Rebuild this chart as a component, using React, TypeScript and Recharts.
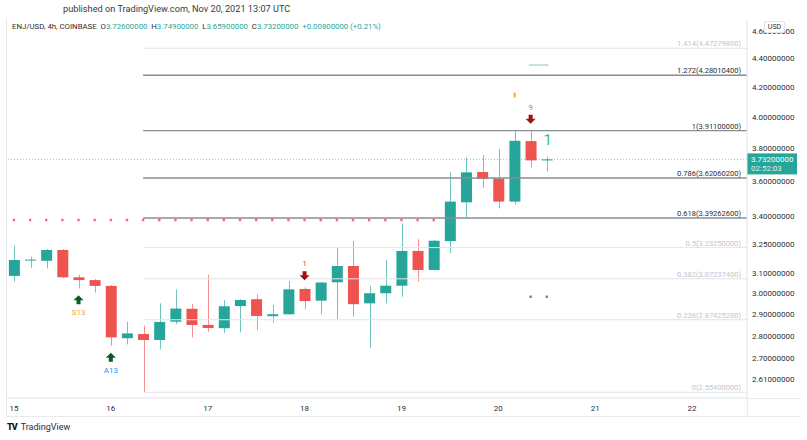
import React from "react";
import { Bar, ComposedChart, ReferenceLine, Scatter, XAxis, YAxis } from "recharts";

// ENJ/USD 4h candles, Nov 15 00:00 .. Nov 20 12:00 (index = candle number)
const opens = [
  3.087, 3.165, 3.164, 3.22, 3.08, 3.066, 3.037, 2.789, 2.808, 2.781, 2.865, 2.926,
  2.85, 2.835, 2.939, 2.972, 2.891, 2.9, 3.022, 2.965, 3.055, 3.137, 2.952, 3.001,
  3.038, 3.215, 3.117, 3.267, 3.48, 3.656, 3.617, 3.484, 3.845, 3.726,
];
const highs = [
  3.243, 3.185, 3.225, 3.225, 3.092, 3.071, 3.042, 2.865, 2.847, 2.952, 3.02, 2.949,
  3.092, 2.968, 2.973, 2.996, 2.944, 3.061, 3.03, 3.056, 3.234, 3.269, 3.037, 3.168,
  3.363, 3.277, 3.273, 3.654, 3.745, 3.759, 3.796, 3.911, 3.911, 3.749,
];
const lows = [
  3.058, 3.128, 3.125, 3.077, 3.025, 3.004, 2.755, 2.761, 2.554, 2.739, 2.854, 2.793,
  2.819, 2.814, 2.816, 2.827, 2.86, 2.898, 2.924, 2.9, 2.876, 2.889, 2.746, 2.952,
  2.984, 3.058, 3.115, 3.203, 3.396, 3.561, 3.446, 3.469, 3.684, 3.659,
];
const closes = [
  3.168, 3.17, 3.22, 3.08, 3.066, 3.037, 2.793, 2.811, 2.781, 2.864, 2.927, 2.85,
  2.836, 2.938, 2.968, 2.892, 2.9, 3.02, 2.963, 3.054, 3.137, 2.948, 3.001, 3.038,
  3.215, 3.117, 3.269, 3.484, 3.654, 3.615, 3.484, 3.847, 3.726, 3.732,
];

const dayTicks = [0, 6, 12, 18, 24, 30, 36, 42];
const dayLabels = ["15", "16", "17", "18", "19", "20", "21", "22"];
const priceTicks = [2.61, 2.7, 2.8, 2.9, 3.0, 3.1, 3.25, 3.4, 3.6, 3.8, 4.0, 4.2, 4.4, 4.6];

// fib retracement drawn from candle 8
const fibStart = 8;
const fibRatios = ["1.414", "1.272", "1", "0.786", "0.618", "0.5", "0.382", "0.236", "0"];
const fibPrices = [4.472798, 4.280104, 3.911, 3.620602, 3.392626, 3.2325, 3.072374, 2.874252, 2.554];
const fibStrong = [false, true, true, true, true, false, false, false, false];

// TD sequential levels / markers
const redDotIdx = [0, 1, 2, 3, 4, 5, 6, 7, 8, 9, 10, 11, 12, 13, 14, 15, 16, 17, 18, 19, 20, 21, 22, 23, 24, 25, 26];
const redDotLevel = 3.381;
const greenDotIdx = [32, 33];
const greenDotLevel = 2.984;
const greenLevel = 4.352;
const belowMarks = [
  { i: 4, text: "S13", color: "#f5a33a" },
  { i: 6, text: "A13", color: "#2196f3" },
];
const aboveMarks = [
  { i: 18, text: "1", color: "#e53935" },
  { i: 32, text: "9", color: "#4caf50" },
];
const lastPrice = 3.732;

const UP = "#26a69a";
const DOWN = "#ef5350";
const FONT = "Roboto, sans-serif";

const candles = opens.map((o, i) => ({ i, open: o, high: highs[i], low: lows[i], close: closes[i] }));
const redDots = redDotIdx.map((i) => ({ i, y: redDotLevel }));
const greenDots = greenDotIdx.map((i) => ({ i, y: greenDotLevel }));
const below = belowMarks.map((m) => ({ ...m, y: lows[m.i] }));
const above = aboveMarks.map((m) => ({ ...m, y: highs[m.i] }));
const bigOne = [{ i: 33, y: highs[33] }];
const orangeTick = [{ i: 31, y: highs[31] }];

function Candle(props: any) {
  const { x, y, width, height, payload } = props;
  if (x == null || !payload) return null;
  const top = Math.min(y, y + height);
  const bot = Math.max(y, y + height);
  const lh = Math.log(payload.high);
  const ll = Math.log(payload.low);
  const px = (p: number) => top + ((bot - top) * (lh - Math.log(p))) / (lh - ll);
  const up = payload.close >= payload.open;
  const color = up ? UP : DOWN;
  const oy = px(payload.open);
  const cy = px(payload.close);
  const cx = Math.round(x + width / 2) + 0.5;
  return (
    <g>
      <line x1={cx} x2={cx} y1={top} y2={bot} stroke={color} strokeOpacity={0.65} />
      <rect x={x} y={Math.min(oy, cy)} width={width} height={Math.max(1, Math.abs(oy - cy))} fill={color} />
    </g>
  );
}

function Dot(color: string) {
  return (p: any) => <rect x={p.cx - 1.2} y={p.cy - 1.2} width={2.4} height={2.4} fill={color} />;
}

function BelowMark(p: any) {
  const { cx, cy, payload } = p;
  const ay = cy + 7;
  return (
    <g>
      <path
        d={`M${cx} ${ay} L${cx + 5} ${ay + 5} L${cx + 2} ${ay + 5} L${cx + 2} ${ay + 9} L${cx - 2} ${ay + 9} L${cx - 2} ${ay + 5} L${cx - 5} ${ay + 5} Z`}
        fill="#0d5a22"
      />
      <text x={cx} y={cy + 27} textAnchor="middle" fontSize={8} fontFamily={FONT} fill={payload.color}>
        {payload.text}
      </text>
    </g>
  );
}

function AboveMark(p: any) {
  const { cx, cy, payload } = p;
  const ay = cy - 7;
  return (
    <g>
      <path
        d={`M${cx} ${ay} L${cx + 5} ${ay - 5} L${cx + 2} ${ay - 5} L${cx + 2} ${ay - 9} L${cx - 2} ${ay - 9} L${cx - 2} ${ay - 5} L${cx - 5} ${ay - 5} Z`}
        fill="#a30f0f"
      />
      <text x={cx} y={cy - 21} textAnchor="middle" fontSize={7.5} fontFamily={FONT} fill={payload.color}>
        {payload.text}
      </text>
    </g>
  );
}

function BigOne(p: any) {
  return (
    <text x={p.cx + 1} y={p.cy - 12} textAnchor="middle" fontSize={15} fontFamily={FONT} fill="#3fbf6a">
      1
    </text>
  );
}

function OrangeTick(p: any) {
  return <rect x={p.cx - 0.8} y={p.cy - 38} width={2} height={5} fill="#ffa726" />;
}

function fibLabel(text: string, strong: boolean) {
  return (props: any) => {
    const vb = props.viewBox;
    if (!vb) return null;
    return (
      <text
        x={vb.x + vb.width - 6}
        y={vb.y - 2}
        textAnchor="end"
        fontSize={7.5}
        fontFamily={FONT}
        fill={strong ? "#2a2e39" : "#c3c5cb"}
      >
        {text}
      </text>
    );
  };
}

function PriceTag(props: any) {
  const vb = props.viewBox;
  if (!vb) return null;
  const x = vb.x + vb.width;
  const y = vb.y;
  return (
    <g>
      <rect x={x} y={y - 6} width={50} height={21} fill={UP} />
      <text x={x + 4} y={y + 3} fontSize={8} fontFamily={FONT} fill="#fff">
        3.73200000
      </text>
      <text x={x + 4} y={y + 12} fontSize={8} fontFamily={FONT} fill="#d8f1ee">
        02:52:03
      </text>
    </g>
  );
}

const tealTxt = { color: "#26a69a" };

export default function App() {
  return (
    <div style={{ position: "absolute", left: 0, top: 0, width: 807, height: 440, background: "#fff", fontFamily: FONT, overflow: "hidden" }}>
      <div style={{ position: "absolute", left: 63, top: 3, fontSize: 9.2, color: "#3a3a3a", whiteSpace: "nowrap" }}>
        published on TradingView.com, Nov 20, 2021 13:07 UTC
      </div>
      <div style={{ position: "absolute", left: 12, top: 22, fontSize: 7.8, color: "#2a2e39", whiteSpace: "nowrap", zIndex: 2 }}>
        ENJ/USD, 4h, COINBASE&nbsp;&nbsp;O<span style={tealTxt}>3.72600000</span>&nbsp;&nbsp;H
        <span style={tealTxt}>3.74900000</span>&nbsp;&nbsp;L<span style={tealTxt}>3.65900000</span>&nbsp;&nbsp;C
        <span style={tealTxt}>3.73200000</span>&nbsp;&nbsp;<span style={tealTxt}>+0.00800000 (+0.21%)</span>
      </div>

      <div style={{ position: "absolute", left: 0, top: 0 }}>
        <ComposedChart width={807} height={440} data={candles} margin={{ top: 20, right: 0, left: 7, bottom: 24 }}>
          <XAxis
            dataKey="i"
            type="number"
            domain={[-0.43, 45.4]}
            allowDataOverflow
            ticks={dayTicks}
            tickFormatter={(v: number) => dayLabels[dayTicks.indexOf(v)]}
            height={18}
            tickLine={false}
            tickSize={0}
            tickMargin={7}
            stroke="#e0e3eb"
            tick={{ fontSize: 8, fill: "#2a2e39", fontFamily: FONT }}
          />
          <YAxis
            orientation="right"
            scale="log"
            type="number"
            domain={[2.5303, 4.6832]}
            allowDataOverflow
            ticks={priceTicks}
            tickFormatter={(v: number) => v.toFixed(8)}
            width={60}
            tickLine={false}
            tickSize={0}
            tickMargin={5}
            stroke="#e0e3eb"
            tick={{ fontSize: 8, fill: "#2a2e39", fontFamily: FONT }}
          />
          <ReferenceLine y={lastPrice} stroke={UP} strokeDasharray="1 2" strokeOpacity={0.55} label={<PriceTag />} />
          {fibPrices.map((p, k) => (
            <ReferenceLine
              key={fibRatios[k]}
              segment={[
                { x: fibStart, y: p },
                { x: 45.4, y: p },
              ]}
              stroke={fibStrong[k] ? "#8a8c93" : "#e3e4e8"}
              strokeWidth={fibStrong[k] ? 1.4 : 1}
              label={fibLabel(`${fibRatios[k]}(${p.toFixed(8)})`, fibStrong[k])}
            />
          ))}
          <ReferenceLine
            segment={[
              { x: 31.9, y: greenLevel },
              { x: 33.1, y: greenLevel },
            ]}
            stroke="#a8dcd5"
            strokeWidth={1.5}
          />
          <Bar dataKey={(d: any) => [d.low, d.high]} barSize={11} shape={<Candle />} isAnimationActive={false} />
          <Scatter data={redDots} dataKey="y" shape={Dot("#f26b6b")} isAnimationActive={false} />
          <Scatter data={greenDots} dataKey="y" shape={Dot("#3aa55d")} isAnimationActive={false} />
          <Scatter data={below} dataKey="y" shape={BelowMark} isAnimationActive={false} />
          <Scatter data={above} dataKey="y" shape={AboveMark} isAnimationActive={false} />
          <Scatter data={bigOne} dataKey="y" shape={BigOne} isAnimationActive={false} />
          <Scatter data={orangeTick} dataKey="y" shape={OrangeTick} isAnimationActive={false} />
        </ComposedChart>
      </div>

      {/* frame of the pane */}
      <div style={{ position: "absolute", left: 6, top: 18, width: 1, height: 398, background: "#e9eaee" }} />
      <div style={{ position: "absolute", left: 6, top: 416, width: 795, height: 1, background: "#e9eaee" }} />
      <div style={{ position: "absolute", left: 747, top: 398, width: 54, height: 1, background: "#e9eaee" }} />
      <div style={{ position: "absolute", left: 747, top: 398, width: 1, height: 18, background: "#e9eaee" }} />

      <div
        style={{
          position: "absolute",
          left: 764,
          top: 21,
          width: 19,
          height: 10,
          background: "#fff",
          border: "1px solid #e0e3eb",
          borderRadius: 2,
          fontSize: 7,
          lineHeight: "10px",
          textAlign: "center",
          color: "#2a2e39",
        }}
      >
        USD
      </div>

      <div style={{ position: "absolute", left: 7, top: 422, fontSize: 9, color: "#2a2e39", whiteSpace: "nowrap" }}>
        <span style={{ fontWeight: 900, color: "#131722", letterSpacing: -1 }}>TV</span>
        <span style={{ marginLeft: 4 }}>TradingView</span>
      </div>
    </div>
  );
}
